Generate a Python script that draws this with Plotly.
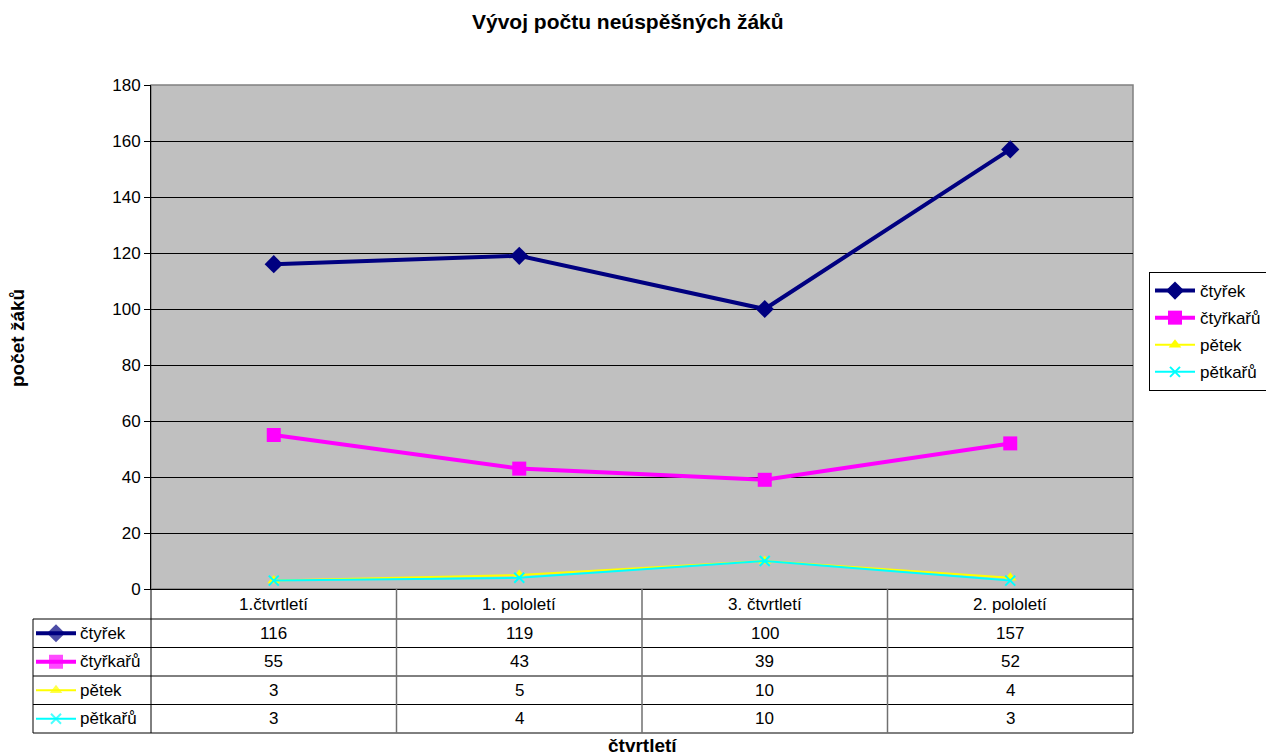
import plotly.graph_objects as go

# ---------------- data ----------------
categories = ["1.čtvrtletí", "1. pololetí", "3. čtvrtletí", "2. pololetí"]
series_names = ["čtyřek", "čtyřkařů", "pětek", "pětkařů"]
ctyrek = [116, 119, 100, 157]
ctyrkaru = [55, 43, 39, 52]
petek = [3, 5, 10, 4]
petkaru = [3, 4, 10, 3]
series_values = [ctyrek, ctyrkaru, petek, petkaru]
y_ticks = [0, 20, 40, 60, 80, 100, 120, 140, 160, 180]

title_text = "Vývoj počtu neúspěšných žáků"
y_title = "počet žáků"
x_title = "čtvrtletí"

# ---------------- styles ----------------
FONT = "Liberation Sans, Arial, sans-serif"
FS = 17
styles = [
    dict(color="#000080", width=4, symbol="diamond", size=14, mline=0),
    dict(color="#FF00FF", width=4, symbol="square", size=14, mline=0),
    dict(color="#FFFF00", width=2, symbol="triangle-up", size=11, mline=0),
    dict(color="#00FFFF", width=2, symbol="x-thin", size=10, mline=2),
]

# ---------------- pixel layout ----------------
W, H = 1266, 756
L_TABLE, L_PLOT, R_PLOT = 33, 151, 1133
TOP, AXIS_Y, BOTTOM = 85, 589, 733
HEADER_BOTTOM = 619
PW, PH = R_PLOT - L_TABLE, BOTTOM - TOP


def px_x(p):
    return (p - L_TABLE) / PW


def px_y(p):
    return (BOTTOM - p) / PH


row_h = (BOTTOM - HEADER_BOTTOM) / len(series_names)
row_bounds = [HEADER_BOTTOM + i * row_h for i in range(len(series_names) + 1)]
row_centers = [HEADER_BOTTOM + (i + 0.5) * row_h for i in range(len(series_names))]

fig = go.Figure()

# main series
for name, vals, st in zip(series_names, series_values, styles):
    marker = dict(symbol=st["symbol"], size=st["size"], color=st["color"])
    if st["mline"]:
        marker["line"] = dict(color=st["color"], width=st["mline"])
    else:
        marker["line"] = dict(width=0)
    fig.add_trace(go.Scatter(
        x=list(range(len(categories))), y=vals, name=name,
        mode="lines+markers",
        line=dict(color=st["color"], width=st["width"]),
        marker=marker, legendgroup=name,
        xaxis="x", yaxis="y", cliponaxis=False,
    ))

# legend keys in data table (second invisible axis, pixel units)
for name, yc, st in zip(series_names, row_centers, styles):
    marker = dict(symbol=st["symbol"], size=[0, st["size"], 0], color=st["color"])
    if st["mline"]:
        marker["line"] = dict(color=st["color"], width=st["mline"])
    else:
        marker["line"] = dict(width=0)
    fig.add_trace(go.Scatter(
        x=[36, 56, 76], y=[yc, yc, yc], mode="lines+markers",
        line=dict(color=st["color"], width=st["width"]),
        marker=marker, showlegend=False, hoverinfo="skip",
        xaxis="x2", yaxis="y2",
    ))

shapes = []
# plot area background + gray border
shapes.append(dict(type="rect", xref="x domain", yref="y domain", x0=0, x1=1, y0=0, y1=1,
                   fillcolor="#C0C0C0", line=dict(color="#808080", width=1.5), layer="below"))
# table horizontal lines
for rb in row_bounds:
    shapes.append(dict(type="line", xref="paper", yref="paper", x0=px_x(L_TABLE) if rb > AXIS_Y + 1 else px_x(L_PLOT), x1=1,
                       y0=px_y(rb), y1=px_y(rb), line=dict(color="black", width=1)))
# table verticals
shapes.append(dict(type="line", xref="paper", yref="paper", x0=px_x(L_TABLE), x1=px_x(L_TABLE),
                   y0=px_y(HEADER_BOTTOM), y1=0, line=dict(color="black", width=1)))
shapes.append(dict(type="line", xref="paper", yref="paper", x0=px_x(L_PLOT), x1=px_x(L_PLOT),
                   y0=px_y(AXIS_Y), y1=0, line=dict(color="black", width=1)))
shapes.append(dict(type="line", xref="paper", yref="paper", x0=1, x1=1,
                   y0=px_y(AXIS_Y), y1=0, line=dict(color="black", width=1)))
for i in range(len(categories) - 1):
    shapes.append(dict(type="line", xref="x", yref="paper", x0=i + 0.5, x1=i + 0.5,
                       y0=px_y(AXIS_Y), y1=0, line=dict(color="#707070", width=1.5)))

annotations = []
TF = dict(family=FONT, size=FS, color="black")
for i, c in enumerate(categories):
    annotations.append(dict(xref="x", yref="paper", x=i, y=px_y((AXIS_Y + HEADER_BOTTOM) / 2),
                            text=c, showarrow=False, font=TF, xanchor="center", yanchor="middle"))
for r, (name, vals) in enumerate(zip(series_names, series_values)):
    yc = px_y(row_centers[r])
    annotations.append(dict(xref="x2", yref="y2", x=78, y=row_centers[r], text=name,
                            showarrow=False, font=TF, xanchor="left", yanchor="middle"))
    for i, v in enumerate(vals):
        annotations.append(dict(xref="x", yref="paper", x=i, y=yc, text=str(v),
                                showarrow=False, font=TF, xanchor="center", yanchor="middle"))
# titles
annotations.append(dict(xref="paper", yref="paper", x=px_x(628), y=px_y(22), text="<b>%s</b>" % title_text,
                        showarrow=False, font=dict(family=FONT, size=21, color="black"),
                        xanchor="center", yanchor="middle"))
annotations.append(dict(xref="paper", yref="paper", x=px_x(17), y=px_y(338), text="<b>%s</b>" % y_title,
                        showarrow=False, textangle=-90, font=dict(family=FONT, size=19, color="black"),
                        xanchor="center", yanchor="middle"))
annotations.append(dict(xref="paper", yref="paper", x=px_x(642), y=px_y(745), text="<b>%s</b>" % x_title,
                        showarrow=False, font=dict(family=FONT, size=19, color="black"),
                        xanchor="center", yanchor="middle"))

fig.update_layout(
    width=W, height=H,
    margin=dict(l=L_TABLE, r=W - R_PLOT, t=TOP, b=H - BOTTOM, pad=0, autoexpand=False),
    paper_bgcolor="white", plot_bgcolor="rgba(0,0,0,0)",
    font=dict(family=FONT, size=FS, color="black"),
    showlegend=True,
    legend=dict(x=px_x(1149), y=px_y(272), xanchor="left", yanchor="top",
                bordercolor="black", borderwidth=1, bgcolor="white",
                font=dict(family=FONT, size=FS, color="black"),
                itemwidth=40, tracegroupgap=2),
    xaxis=dict(domain=[px_x(L_PLOT), 1], range=[-0.5, len(categories) - 0.5],
               showticklabels=False, showgrid=False, zeroline=False,
               showline=True, linecolor="black", linewidth=1, ticks="", fixedrange=True),
    yaxis=dict(domain=[px_y(AXIS_Y), 1], range=[0, 180], tickvals=y_ticks,
               showgrid=True, gridcolor="black", gridwidth=1, zeroline=False,
               showline=True, linecolor="black", linewidth=1,
               ticks="outside", ticklen=6, tickcolor="black",
               tickfont=dict(family=FONT, size=FS, color="black"), fixedrange=True),
    xaxis2=dict(domain=[0, px_x(L_PLOT)], range=[L_TABLE, L_PLOT], visible=False,
                anchor="y2", fixedrange=True),
    yaxis2=dict(domain=[0, px_y(HEADER_BOTTOM)], range=[BOTTOM, HEADER_BOTTOM], visible=False,
                anchor="x2", fixedrange=True),
    shapes=shapes, annotations=annotations,
)

fig.write_html("out.html", config={"displayModeBar": False},
               post_script="document.body.style.margin='0';document.body.style.overflow='hidden';")
